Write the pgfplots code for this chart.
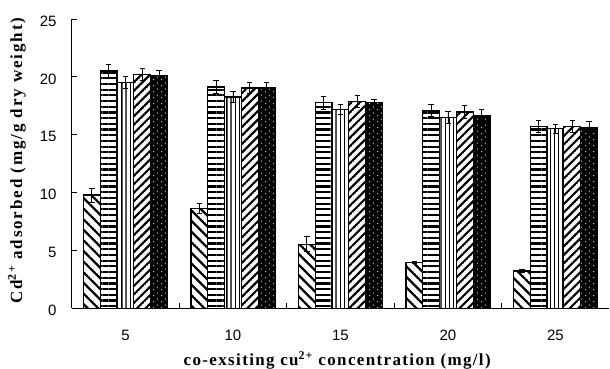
\documentclass[border=0pt]{standalone}
\usepackage{pgfplots}
\pgfplotsset{compat=1.18}
\usepackage{fontspec}
\setmainfont{Liberation Serif}
\newfontfamily\ticksf{Liberation Sans}
\newfontfamily\labfont[LetterSpace=8]{Liberation Serif}
\newfontfamily\ylabfont[LetterSpace=11]{Liberation Serif}
\usetikzlibrary{patterns,patterns.meta}

\tikzdeclarepattern{
  name=hatch,
  parameters={\pgfkeysvalueof{/pgf/pattern keys/size},\pgfkeysvalueof{/pgf/pattern keys/angle},\pgfkeysvalueof{/pgf/pattern keys/line width}},
  bounding box={(0,-0.5*\pgfkeysvalueof{/pgf/pattern keys/line width}) and (\pgfkeysvalueof{/pgf/pattern keys/size},0.5*\pgfkeysvalueof{/pgf/pattern keys/line width})},
  tile size={(\pgfkeysvalueof{/pgf/pattern keys/size},\pgfkeysvalueof{/pgf/pattern keys/size})},
  tile transformation={rotate=\pgfkeysvalueof{/pgf/pattern keys/angle}},
  defaults={size/.initial=5pt,angle/.initial=45,line width/.initial=.4pt},
  code={\draw[line width=\pgfkeysvalueof{/pgf/pattern keys/line width}] (0,0) -- (\pgfkeysvalueof{/pgf/pattern keys/size},0);}
}
\tikzdeclarepattern{
  name=wdots,
  type=uncolored,
  bounding box={(0,0) and (8pt,6pt)},
  tile size={(8pt,6pt)},
  code={\pgfpathcircle{\pgfpoint{2pt}{1.5pt}}{0.65pt}\pgfpathcircle{\pgfpoint{6pt}{4.5pt}}{0.65pt}\pgfusepath{fill}}
}

\pgfplotstableread{
x  y     e
0  9.79  0.6
1  8.64  0.4
2  5.53  0.65
3  3.97  0.1
4  3.22  0.1
}\sone
\pgfplotstableread{
x  y     e
0  20.5  0.6
1  19.13 0.6
2  17.77 0.55
3  17.08 0.5
4  15.70 0.5
}\stwo
\pgfplotstableread{
x  y     e
0  19.53 0.5
1  18.26 0.5
2  17.20 0.45
3  16.50 0.5
4  15.52 0.4
}\sthree
\pgfplotstableread{
x  y     e
0  20.19 0.5
1  19.04 0.5
2  17.86 0.5
3  16.97 0.6
4  15.73 0.55
}\sfour
\pgfplotstableread{
x  y     e
0  20.10 0.45
1  19.04 0.5
2  17.77 0.25
3  16.65 0.5
4  15.61 0.55
}\sfive

\begin{document}
\begin{tikzpicture}
\useasboundingbox (-71.7pt,-60.7pt) rectangle (538.3pt,308.3pt);
\begin{axis}[
  scale only axis,
  width=537.5pt, height=289.3pt,
  ybar, bar width=16.8pt,
  xmin=-0.5, xmax=4.5,
  ymin=0, ymax=25,
  axis x line*=bottom, axis y line*=left,
  axis line style={line width=0.9pt, black},
  xtick={0,1,2,3,4},
  xticklabels={5,10,15,20,25},
  major x tick style={draw=none},
  minor xtick={0.5,1.5,2.5,3.5},
  minor x tick style={black, line width=0.8pt},
  minor tick length=5pt,
  ytick={0,5,10,15,20,25},
  yticklabels={0,5,10,15,20,25},
  major y tick style={black, line width=0.8pt},
  major tick length=5pt,
  tick align=inside,
  /pgf/number format/assume math mode=true,
  ticklabel style={font=\ticksf\fontsize{15}{17}\selectfont},
  yticklabel style={xshift=-11.7pt, yshift=-2pt},
  xticklabel style={yshift=-18pt},
  xlabel={co-exsiting cu\textsuperscript{2+} concentration (mg/l)},
  ylabel={Cd\textsuperscript{2+} adsorbed (mg/g dry weight)},
  xlabel style={font=\labfont\bfseries\fontsize{17}{19}\selectfont, at={(axis description cs:0.494,-0.18)}, anchor=center},
  ylabel style={font=\ylabfont\bfseries\fontsize{17}{19}\selectfont, at={(axis description cs:-0.102,0.51)}, anchor=center, rotate=0},
  error bars/y dir=both,
  error bars/y explicit,
  error bars/error bar style={line width=0.8pt, black},
  error bars/error mark options={black, line width=0.8pt, mark size=2.7pt, rotate=90},
  every axis plot/.append style={draw=black, line width=1.2pt},
]
\addplot[bar shift=-33.6pt, fill=white, postaction={pattern={hatch[size=7.5pt,angle=-45,line width=2.3pt]}}]
  table[x=x, y=y, y error=e] {\sone};
\addplot[bar shift=-16.8pt, fill=white, postaction={pattern={hatch[size=5.7pt,angle=0,line width=2.2pt]}}]
  table[x=x, y=y, y error=e] {\stwo};
\addplot[bar shift=0pt, fill=white, postaction={pattern={hatch[size=4.2pt,angle=90,line width=1.4pt]}}]
  table[x=x, y=y, y error=e] {\sthree};
\addplot[bar shift=16.8pt, fill=white, postaction={pattern={hatch[size=6pt,angle=45,line width=2.2pt]}}]
  table[x=x, y=y, y error=e] {\sfour};
\addplot[bar shift=33.6pt, fill=black, postaction={pattern=wdots, pattern color=white}]
  table[x=x, y=y, y error=e] {\sfive};
\end{axis}
\end{tikzpicture}
\end{document}
